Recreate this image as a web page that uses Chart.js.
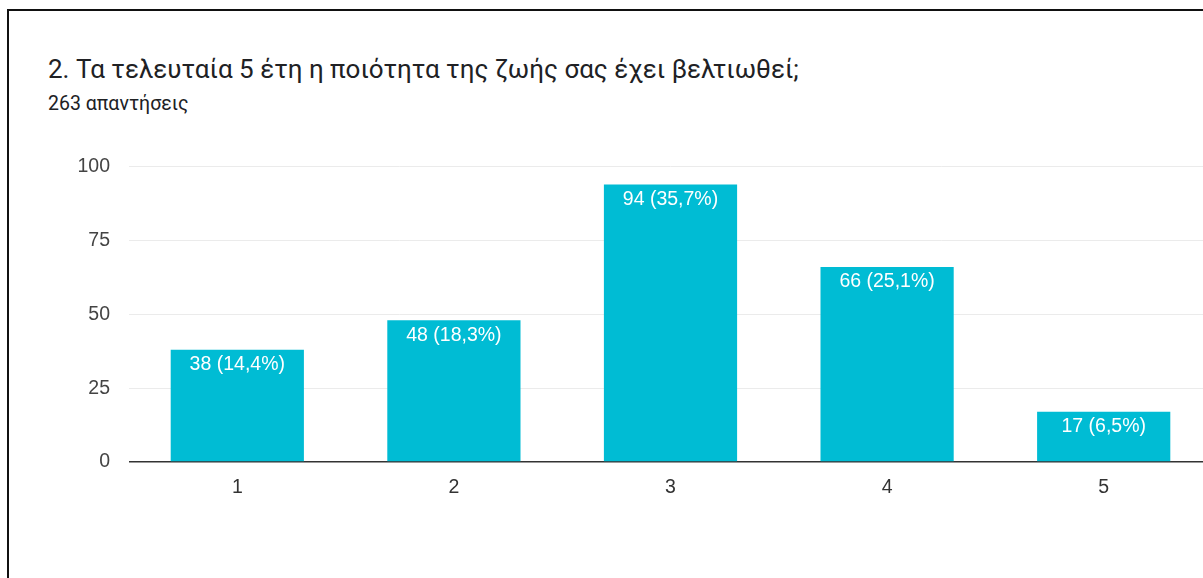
<!DOCTYPE html>
<html>
<head>
<meta charset="utf-8">
<script src="https://cdn.jsdelivr.net/npm/chart.js@4"></script>
<style>
    html, body { margin: 0; padding: 0; background: #fff; overflow: hidden; width: 1203px; height: 578px; }
    #frame { position: absolute; left: 7px; top: 9px; width: 1300px; height: 700px; border-left: 2px solid #111; border-top: 2px solid #111; }
    #title { position: absolute; left: 48px; top: 54px; font-family: Roboto, "Noto Sans", sans-serif; font-size: 26px; color: #202124; white-space: nowrap; }
    #subtitle { position: absolute; left: 48px; top: 92px; font-family: Roboto, "Noto Sans", sans-serif; font-size: 19.5px; color: #202124; white-space: nowrap; }
    #wrap { position: absolute; left: 0; top: 136px; width: 1212px; height: 404px; }
</style>
</head>
<body>
<div id="frame"></div>
<div id="title">2. Τα τελευταία 5 έτη η ποιότητα της ζωής σας έχει βελτιωθεί;</div>
<div id="subtitle">263 απαντήσεις</div>
<div id="wrap"><canvas id="chart"></canvas></div>
<script>
    var categories = ['1', '2', '3', '4', '5'];
    var counts = [38, 48, 94, 66, 17];
    var percents = ['14,4%', '18,3%', '35,7%', '25,1%', '6,5%'];
    var yTicks = [0, 25, 50, 75, 100];

    // white "n (p%)" text just inside the top of each bar
    var barLabels = {
        id: 'barLabels',
        afterDatasetsDraw: function (chart) {
            var ctx = chart.ctx;
            var meta = chart.getDatasetMeta(0);
            ctx.save();
            ctx.fillStyle = '#ffffff';
            ctx.font = '19.5px "Liberation Sans", Arial, sans-serif';
            ctx.textAlign = 'center';
            ctx.textBaseline = 'middle';
            meta.data.forEach(function (bar, i) {
                ctx.fillText(counts[i] + ' (' + percents[i] + ')', bar.x, bar.y + 15);
            });
            ctx.restore();
        }
    };

    new Chart(document.getElementById('chart'), {
        type: 'bar',
        data: {
            labels: categories,
            datasets: [{
                data: counts,
                backgroundColor: '#00bcd4',
                borderWidth: 0,
                categoryPercentage: 1,
                barPercentage: 0.615
            }]
        },
        options: {
            responsive: true,
            maintainAspectRatio: false,
            animation: false,
            layout: { padding: { top: 22, right: 0, bottom: 28, left: 0 } },
            plugins: {
                legend: { display: false },
                tooltip: { enabled: false }
            },
            scales: {
                x: {
                    grid: { display: false, drawTicks: false },
                    border: { display: false },
                    ticks: {
                        padding: 14,
                        color: '#333',
                        font: { family: '"Liberation Sans", Arial, sans-serif', size: 19.5 }
                    },
                    afterFit: function (scale) { scale.height = 50; }
                },
                y: {
                    min: 0,
                    max: 100,
                    afterBuildTicks: function (scale) {
                        scale.ticks = yTicks.map(function (v) { return { value: v }; });
                    },
                    grid: {
                        drawTicks: false,
                        color: function (c) { return c.tick && c.tick.value === 0 ? '#333' : '#ebebeb'; },
                        lineWidth: function (c) { return c.tick && c.tick.value === 0 ? 1.5 : 1; }
                    },
                    border: { display: false },
                    ticks: {
                        padding: 19,
                        color: '#444',
                        font: { family: '"Liberation Sans", Arial, sans-serif', size: 19.5 }
                    },
                    afterFit: function (scale) { scale.width = 129; }
                }
            }
        },
        plugins: [barLabels]
    });
</script>
</body>
</html>
